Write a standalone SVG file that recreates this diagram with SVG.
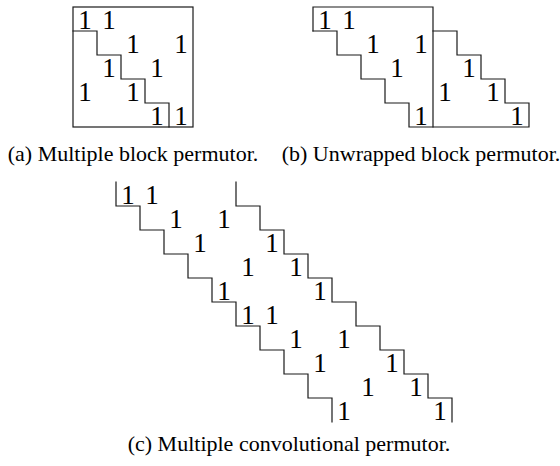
<svg xmlns="http://www.w3.org/2000/svg" width="560" height="466" viewBox="0 0 560 466">
  <style>
    .edge { fill: none; stroke: #1a1a1a; stroke-width: 1.2; stroke-linecap: square; }
    .one { font-family: "Liberation Serif", "Times New Roman", serif; font-size: 27px; fill: #000; text-anchor: middle; }
    .cap { font-family: "Liberation Serif", "Times New Roman", serif; font-size: 22px; fill: #000; text-anchor: middle; }
  </style>
  <rect width="560" height="466" fill="#fff"/>

  <!-- (a) multiple block permutor: 5x5 cells of 24px -->
  <g id="permutor-a">
    <rect class="edge" x="73" y="7" width="120" height="120"/>
    <path class="edge" d="M73,31 H97 V55 H121 V79 H145 V103 H169 V127"/>
    <text class="one" x="85" y="29">1</text>
    <text class="one" x="109" y="29">1</text>
    <text class="one" x="133" y="53">1</text>
    <text class="one" x="181" y="53">1</text>
    <text class="one" x="109" y="77">1</text>
    <text class="one" x="157" y="77">1</text>
    <text class="one" x="85" y="101">1</text>
    <text class="one" x="133" y="101">1</text>
    <text class="one" x="157" y="125">1</text>
    <text class="one" x="181" y="125">1</text>
    <text class="cap" x="133" y="161">(a) Multiple block permutor.</text>
  </g>

  <!-- (b) unwrapped block permutor: upper part and strictly lower part side by side -->
  <g id="permutor-b">
    <path class="edge" d="M313,31 V7 H433 V127"/>
    <path class="edge" d="M313,31 H337 V55 H361 V79 H385 V103 H409 V127 H529 V103 H505 V79 H481 V55 H457 V31 H433"/>
    <text class="one" x="325" y="29">1</text>
    <text class="one" x="349" y="29">1</text>
    <text class="one" x="373" y="53">1</text>
    <text class="one" x="421" y="53">1</text>
    <text class="one" x="397" y="77">1</text>
    <text class="one" x="469" y="77">1</text>
    <text class="one" x="445" y="101">1</text>
    <text class="one" x="493" y="101">1</text>
    <text class="one" x="421" y="125">1</text>
    <text class="one" x="517" y="125">1</text>
    <text class="cap" x="421" y="161">(b) Unwrapped block permutor.</text>
  </g>

  <!-- (c) multiple convolutional permutor: two parallel staircases -->
  <g id="permutor-c">
    <path class="edge" d="M116,182 V206 H140 V230 H164 V254 H188 V278 H212 V302 H236 V326 H260 V350 H284 V374 H308 V398 H332 V422"/>
    <path class="edge" d="M236,182 V206 H260 V230 H284 V254 H308 V278 H332 V302 H356 V326 H380 V350 H404 V374 H428 V398 H452 V422"/>
    <text class="one" x="128" y="204">1</text>
    <text class="one" x="152" y="204">1</text>
    <text class="one" x="176" y="228">1</text>
    <text class="one" x="224" y="228">1</text>
    <text class="one" x="200" y="252">1</text>
    <text class="one" x="272" y="252">1</text>
    <text class="one" x="248" y="276">1</text>
    <text class="one" x="296" y="276">1</text>
    <text class="one" x="224" y="300">1</text>
    <text class="one" x="320" y="300">1</text>
    <text class="one" x="248" y="324">1</text>
    <text class="one" x="272" y="324">1</text>
    <text class="one" x="296" y="348">1</text>
    <text class="one" x="344" y="348">1</text>
    <text class="one" x="320" y="372">1</text>
    <text class="one" x="392" y="372">1</text>
    <text class="one" x="368" y="396">1</text>
    <text class="one" x="416" y="396">1</text>
    <text class="one" x="344" y="420">1</text>
    <text class="one" x="440" y="420">1</text>
    <text class="cap" x="289" y="451">(c) Multiple convolutional permutor.</text>
  </g>
</svg>
